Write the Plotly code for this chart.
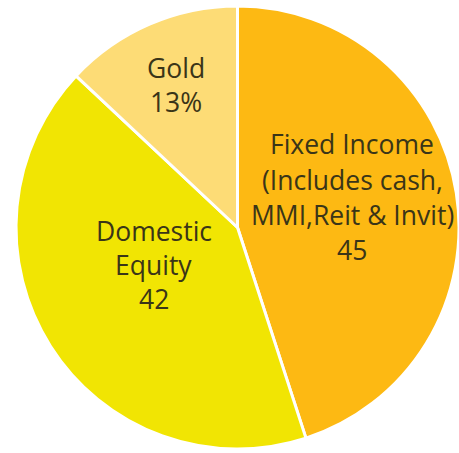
import plotly.graph_objects as go

labels = ["Fixed Income (Includes cash, MMI,Reit & Invit)", "Domestic Equity", "Gold"]
values = [45, 42, 13]
label_lines = [["Fixed Income", "(Includes cash,", "MMI,Reit & Invit)", "45"],
               ["Domestic", "Equity", "42"],
               ["Gold<br>13%"]]
colors = ["#FDB913", "#F1E503", "#FDDC76"]

W, H = 459, 453
M = dict(l=16, r=0, t=5, b=3)

fig = go.Figure(go.Pie(
    labels=labels, values=values,
    textinfo="none",
    sort=False, direction="clockwise", rotation=0,
    marker=dict(colors=colors, line=dict(color="white", width=3)),
    hoverinfo="label+value",
))

# label block placement (pixel centre x, first line y, line step)
placement = [(352, 144, 35.5), (153.5, 230.5, 34.3), (176, 85, 0)]
pw = W - M["l"] - M["r"]
ph = H - M["t"] - M["b"]
for lines, (cx, y0, step) in zip(label_lines, placement):
    for i, line in enumerate(lines):
        py = y0 + i * step
        fig.add_annotation(
            x=(cx - M["l"]) / pw, y=(H - M["b"] - py) / ph,
            xref="paper", yref="paper", xanchor="center", yanchor="middle",
            text=line, showarrow=False,
            font=dict(family="Open Sans", size=26.5, color="#3A3518"),
        )

fig.update_layout(
    width=W, height=H, showlegend=False,
    margin=M,
    paper_bgcolor="white",
)
fig.write_html("out.html", config={"displayModeBar": False},
               post_script="document.body.style.margin='0';")
